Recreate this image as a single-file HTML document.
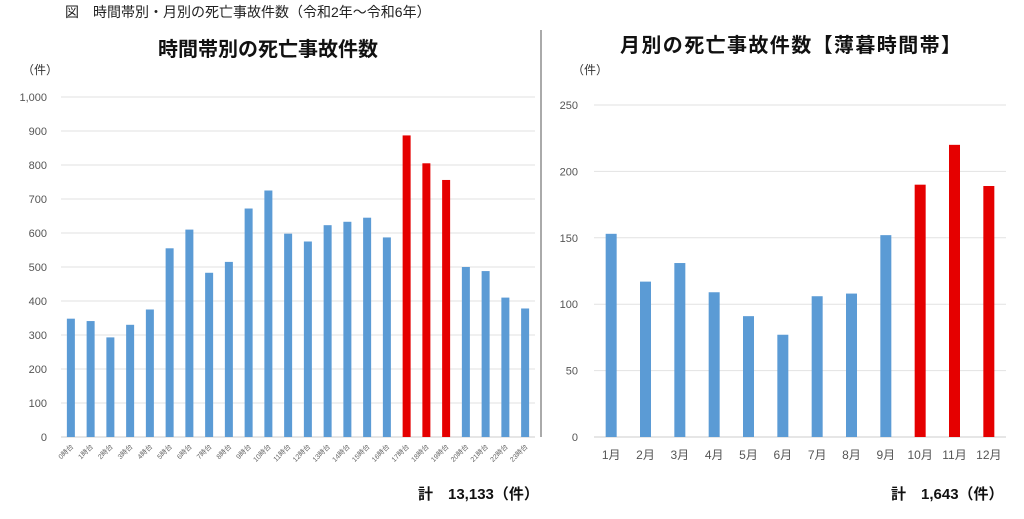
<!DOCTYPE html>
<html><head><meta charset="utf-8"><style>
body{margin:0;background:#fff;width:1024px;height:514px;overflow:hidden}
svg text{font-family:"Liberation Sans","Noto Sans CJK JP",sans-serif}
</style></head><body>
<svg id="c" width="1024" height="514" xmlns="http://www.w3.org/2000/svg">
<text x="65" y="17" font-size="14" fill="#222">図　時間帯別・月別の死亡事故件数（令和2年～令和6年）</text>
<text x="268" y="56" font-size="20" font-weight="bold" text-anchor="middle" fill="#111">時間帯別の死亡事故件数</text>
<text x="22" y="74" font-size="12" fill="#333">（件）</text>
<text x="620" y="52" font-size="20" font-weight="bold" letter-spacing="1.4" fill="#111">月別の死亡事故件数【薄暮時間帯】</text>
<text x="572" y="74" font-size="12" fill="#333">（件）</text>
<line x1="541" y1="30" x2="541" y2="437" stroke="#555" stroke-width="1"/>
<g id="left"></g><g id="right"></g>
<text x="418" y="499" font-size="15" font-weight="bold" fill="#111">計　13,133（件）</text>
<text x="891" y="499" font-size="15" font-weight="bold" fill="#111">計　1,643（件）</text>
</svg>
<script>
const hourLabels=["0時台","1時台","2時台","3時台","4時台","5時台","6時台","7時台","8時台","9時台","10時台","11時台","12時台","13時台","14時台","15時台","16時台","17時台","18時台","19時台","20時台","21時台","22時台","23時台"];
const hourValues=[348,341,293,330,375,555,610,483,515,672,725,598,575,623,633,645,587,887,805,756,500,488,410,378];
const hourRed=[17,18,19];
const leftTicks=[0,100,200,300,400,500,600,700,800,900,1000];
const leftTickLabels=["0","100","200","300","400","500","600","700","800","900","1,000"];
const monthLabels=["1月","2月","3月","4月","5月","6月","7月","8月","9月","10月","11月","12月"];
const monthValues=[153,117,131,109,91,77,106,108,152,190,220,189];
const monthRed=[9,10,11];
const rightTicks=[0,50,100,150,200,250];
const rightTickLabels=["0","50","100","150","200","250"];
const NS="http://www.w3.org/2000/svg";
function mk(p,t,a){const e=document.createElementNS(NS,t);for(const k in a)e.setAttribute(k,a[k]);p.appendChild(e);return e;}
function draw(g,o){
  const y=v=>o.y0-(v/o.max)*(o.y0-o.yTop);
  const bw=(o.x1-o.x0)/o.labels.length;
  const x=i=>o.x0+bw*(i+0.5);
  o.ticks.forEach((t,i)=>{
    const l=mk(g,'line',{x1:o.x0,x2:o.x1,y1:y(t),y2:y(t),stroke:t===0?'#ccc':'#e2e2e2','stroke-width':1});
    
    
    const tx=mk(g,'text',{x:o.x0-o.lpad,y:y(t)+4,'font-size':11,'text-anchor':'end',fill:'#555'});
    tx.textContent=o.tickLabels[i];
    
    
  });
  o.values.forEach((v,i)=>{
    const r=mk(g,'rect',{x:x(i)-o.w/2,y:y(v),width:o.w,height:o.y0-y(v),fill:o.red.includes(i)?'#e50000':'#5b9bd5'});
    
    
    let tx;
    if(o.rot){
      tx=mk(g,'text',{x:x(i)+3,y:o.y0+10,'font-size':7,'text-anchor':'end',fill:'#666',transform:`rotate(-45 ${x(i)+3} ${o.y0+10})`});
    }else{
      tx=mk(g,'text',{x:x(i),y:o.y0+22,'font-size':12,'text-anchor':'middle',fill:'#555'});
    }
    tx.textContent=o.labels[i];
    
    
  });
}
draw(document.getElementById('left'),{x0:61,x1:535,y0:437,yTop:97,max:1000,labels:hourLabels,values:hourValues,red:hourRed,ticks:leftTicks,tickLabels:leftTickLabels,w:8,rot:true,lpad:14});
draw(document.getElementById('right'),{x0:594,x1:1006,y0:437,yTop:105,max:250,labels:monthLabels,values:monthValues,red:monthRed,ticks:rightTicks,tickLabels:rightTickLabels,w:11,rot:false,lpad:16});
</script>
</body></html>
